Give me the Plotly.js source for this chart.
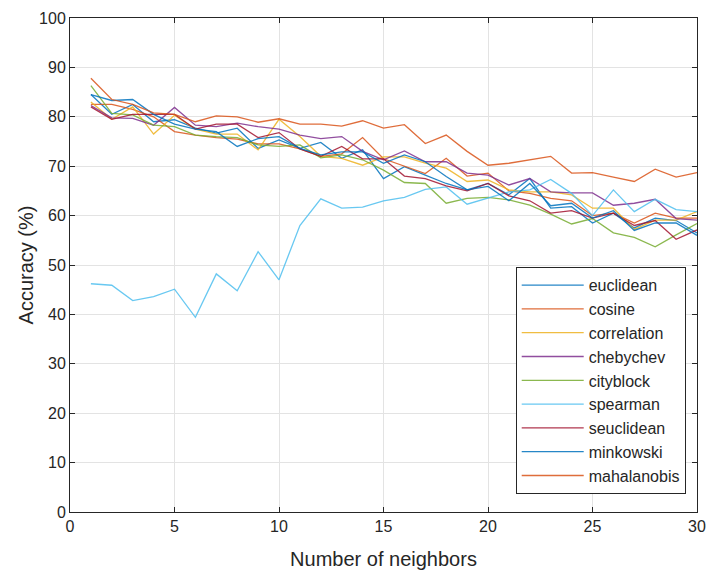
<!DOCTYPE html>
<html>
<head>
<meta charset="utf-8">
<script src="https://cdn.plot.ly/plotly-3.0.1.min.js"></script>
<style>html,body{margin:0;padding:0;background:#fff;}#chart{width:710px;height:571px;}</style>
</head>
<body>
<div id="chart"></div>
<script>
const neighbors = [1,2,3,4,5,6,7,8,9,10,11,12,13,14,15,16,17,18,19,20,21,22,23,24,25,26,27,28,29,30];

const euclidean   = [84.5, 80.5, 82.5, 79.0, 79.4, 77.7, 76.7, 77.7, 73.6, 75.3, 73.6, 74.8, 71.6, 73.3, 67.5, 69.9, 68.2, 66.5, 65.2, 66.5, 64.2, 67.5, 61.5, 61.8, 58.5, 60.5, 57.5, 59.5, 59.0, 56.5];
const cosine      = [82.5, 82.5, 81.5, 80.0, 77.0, 76.3, 75.8, 75.5, 74.5, 74.5, 73.5, 72.0, 72.5, 75.8, 71.5, 70.0, 68.5, 71.6, 68.0, 68.6, 65.0, 64.5, 63.5, 63.0, 60.0, 60.5, 58.5, 60.5, 59.5, 59.5];
const correlation = [83.0, 79.5, 82.0, 76.5, 80.3, 77.5, 76.5, 76.5, 73.3, 79.5, 76.0, 72.0, 71.6, 70.2, 71.9, 71.9, 70.6, 69.6, 66.9, 67.2, 65.2, 64.8, 64.8, 64.2, 61.5, 61.5, 57.2, 59.1, 59.1, 60.8];
const chebychev   = [82.3, 79.8, 79.7, 78.3, 81.9, 78.3, 78.0, 78.7, 78.0, 77.5, 76.3, 75.6, 76.0, 73.0, 71.3, 73.1, 70.9, 70.9, 68.6, 68.2, 66.2, 67.5, 64.8, 64.6, 64.6, 62.1, 62.5, 63.3, 59.4, 59.1];
const cityblock   = [86.3, 80.7, 80.4, 78.3, 78.0, 76.3, 76.0, 75.8, 74.3, 74.0, 74.3, 71.7, 72.3, 71.3, 69.2, 66.7, 66.5, 62.5, 63.5, 63.7, 63.2, 62.1, 60.3, 58.3, 59.4, 56.5, 55.6, 53.7, 56.1, 58.4];
const spearman    = [46.2, 45.9, 42.8, 43.6, 45.1, 39.4, 48.2, 44.8, 52.7, 47.0, 58.0, 63.4, 61.5, 61.7, 63.0, 63.7, 65.3, 65.8, 62.3, 63.6, 64.8, 65.2, 67.3, 64.5, 60.0, 65.2, 60.8, 63.3, 61.2, 60.8];
const seuclidean  = [82.0, 79.5, 80.5, 80.5, 80.5, 77.5, 78.5, 78.5, 75.8, 76.8, 73.5, 72.0, 74.0, 71.5, 71.5, 68.0, 67.5, 66.0, 65.0, 66.5, 64.0, 63.0, 60.5, 61.0, 59.5, 60.5, 58.0, 59.0, 55.2, 57.1];
const minkowski   = [84.5, 83.3, 83.5, 80.5, 78.5, 77.5, 77.0, 74.0, 75.6, 76.0, 73.6, 72.3, 72.9, 72.9, 70.6, 72.3, 70.9, 67.9, 65.2, 65.9, 63.0, 66.5, 62.0, 62.5, 59.5, 61.0, 57.0, 58.5, 58.5, 56.0];
const mahalanobis = [87.8, 83.5, 82.5, 80.8, 80.5, 79.0, 80.2, 80.0, 78.9, 79.6, 78.5, 78.5, 78.1, 79.2, 77.7, 78.4, 74.6, 76.3, 73.0, 70.2, 70.6, 71.3, 72.0, 68.6, 68.7, 67.8, 66.9, 69.4, 67.8, 68.7];

const seriesNames = ["euclidean","cosine","correlation","chebychev","cityblock","spearman","seuclidean","minkowski","mahalanobis"];
const seriesData  = [euclidean, cosine, correlation, chebychev, cityblock, spearman, seuclidean, minkowski, mahalanobis];
const colors = ["#0072BD","#D95319","#EDB120","#7E2F8E","#77AC30","#4DBEEE","#A2142F","#0072BD","#D95319"];

const traces = seriesNames.map((n, i) => ({
  x: neighbors, y: seriesData[i], name: n, type: "scatter", mode: "lines",
  line: {color: colors[i], width: 1.3}, opacity: 0.85
}));

const FONT = "Liberation Sans, Arial, sans-serif";
const axisCommon = {
  showline: true, linecolor: "#262626", linewidth: 1, mirror: "ticks",
  ticks: "inside", ticklen: 5, tickcolor: "#262626",
  showgrid: true, gridcolor: "#e3e3e3", gridwidth: 1, zeroline: false,
  tickfont: {family: FONT, size: 16, color: "#262626"}
};

const layout = {
  width: 710, height: 571,
  margin: {l: 70, r: 13, t: 18, b: 59},
  paper_bgcolor: "#fff", plot_bgcolor: "#fff",
  showlegend: true,
  xaxis: Object.assign({}, axisCommon, {
    range: [0, 30], tickvals: [0,5,10,15,20,25,30],
    title: {text: "Number of neighbors", font: {family: FONT, size: 20, color: "#262626"}, standoff: 17}
  }),
  yaxis: Object.assign({}, axisCommon, {
    range: [0, 100], tickvals: [0,10,20,30,40,50,60,70,80,90,100],
    title: {text: "Accuracy (%)", font: {family: FONT, size: 20, color: "#262626"}, standoff: 0}
  }),
  legend: {
    x: 0.982, xanchor: "right", y: 0.036, yanchor: "bottom",
    bgcolor: "#fff", bordercolor: "#262626", borderwidth: 1,
    font: {family: FONT, size: 16, color: "#262626"},
    itemwidth: 62, tracegroupgap: 0
  }
};

Plotly.newPlot("chart", traces, layout, {displayModeBar: false, staticPlot: true});
</script>
</body>
</html>
